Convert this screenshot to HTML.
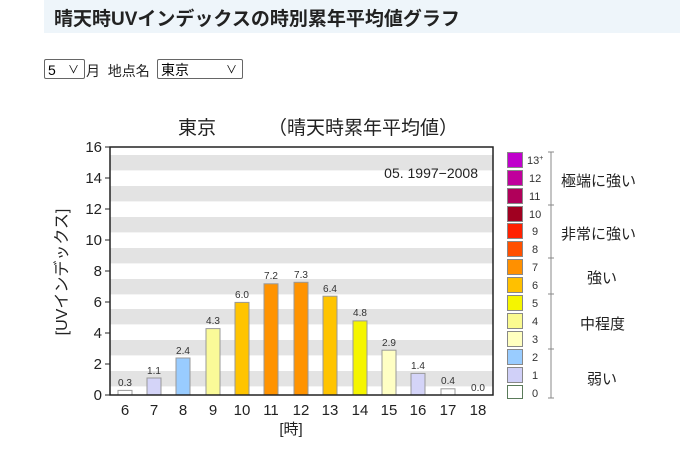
<!DOCTYPE html>
<html><head><meta charset="utf-8"><style>
body{margin:0;width:680px;height:460px;background:#fff;font-family:"Liberation Sans","Noto Sans CJK JP",sans-serif;overflow:hidden;position:relative}
.hd{position:absolute;left:44px;top:0;width:636px;height:33px;background:#eef5fa}
.hd span{position:absolute;left:10px;top:4px;font-size:19px;font-weight:bold;color:#222}
.sel{position:absolute;top:59px;height:20px;border:1px solid #666;border-radius:2px;font-size:14px;line-height:20px;box-sizing:border-box;padding-left:3px;background:#fff}
.t{position:absolute;top:61px;font-size:14px;color:#222}
</style></head><body>
<div class="hd"><span>晴天時UVインデックスの時別累年平均値グラフ</span></div>
<div class="sel" style="left:44px;width:41px">5<span style="position:absolute;right:5px;font-size:11px">&#x2228;</span></div>
<div class="t" style="left:86px">月&nbsp;&nbsp;地点名</div>
<div class="sel" style="left:157px;width:86px">東京<span style="position:absolute;right:5px;font-size:11px">&#x2228;</span></div>
<svg width="680" height="460" style="position:absolute;left:0;top:0" font-family="Liberation Sans,Noto Sans CJK JP,sans-serif">
<text x="178" y="134" font-size="19" fill="#222">東京</text>
<text x="268" y="134" font-size="19" fill="#222">（晴天時累年平均値）</text>
<g fill="#e3e3e3">
<rect x="110" y="155" width="383" height="15.4"/>
<rect x="110" y="186" width="383" height="15.4"/>
<rect x="110" y="217" width="383" height="15.4"/>
<rect x="110" y="248" width="383" height="15.4"/>
<rect x="110" y="279" width="383" height="15.4"/>
<rect x="110" y="309" width="383" height="15.4"/>
<rect x="110" y="340" width="383" height="15.4"/>
<rect x="110" y="371" width="383" height="15.4"/>
</g>
<text x="478" y="178" font-size="14" text-anchor="end" fill="#222">05. 1997−2008</text>
<g stroke="#999" stroke-width="1">
<rect x="118" y="390.4" width="14" height="4.6" fill="#fff"/>
<rect x="147" y="378" width="14" height="17" fill="#d4d4f8"/>
<rect x="176" y="358" width="14" height="37" fill="#99ccff"/>
<rect x="206" y="328.6" width="14" height="66.4" fill="#fafa98"/>
<rect x="235" y="302.4" width="14" height="92.6" fill="#ffc400"/>
<rect x="264" y="283.8" width="14" height="111.2" fill="#ff9300"/>
<rect x="294" y="282.3" width="14" height="112.7" fill="#ff9300"/>
<rect x="323" y="296.2" width="14" height="98.8" fill="#ffc400"/>
<rect x="353" y="320.9" width="14" height="74.1" fill="#f5f500"/>
<rect x="382" y="350.2" width="14" height="44.8" fill="#ffffc4"/>
<rect x="411" y="373.4" width="14" height="21.6" fill="#d4d4f8"/>
<rect x="441" y="388.8" width="14" height="6.2" fill="#fff"/>
</g>
<g font-size="10" fill="#333" text-anchor="middle">
<text x="125" y="386">0.3</text><text x="154" y="374">1.1</text><text x="183" y="354">2.4</text>
<text x="213" y="324">4.3</text><text x="242" y="298">6.0</text><text x="271" y="279">7.2</text>
<text x="301" y="278">7.3</text><text x="330" y="292">6.4</text><text x="360" y="316">4.8</text>
<text x="389" y="346">2.9</text><text x="418" y="369">1.4</text><text x="448" y="384">0.4</text><text x="478" y="391">0.0</text>
</g>
<rect x="110" y="147" width="383" height="248" fill="none" stroke="#222" stroke-width="1.5"/>
<g stroke="#222" stroke-width="1">
<line x1="105" y1="147" x2="110" y2="147"/><line x1="105" y1="178" x2="110" y2="178"/><line x1="105" y1="209" x2="110" y2="209"/><line x1="105" y1="240" x2="110" y2="240"/><line x1="105" y1="271" x2="110" y2="271"/><line x1="105" y1="302" x2="110" y2="302"/><line x1="105" y1="333" x2="110" y2="333"/><line x1="105" y1="364" x2="110" y2="364"/><line x1="105" y1="395" x2="110" y2="395"/>
</g>
<g font-size="15" fill="#222" text-anchor="end">
<text x="102" y="152">16</text><text x="102" y="183">14</text><text x="102" y="214">12</text><text x="102" y="245">10</text><text x="102" y="276">8</text><text x="102" y="307">6</text><text x="102" y="338">4</text><text x="102" y="369">2</text><text x="102" y="400">0</text>
</g>
<g font-size="15" fill="#222" text-anchor="middle">
<text x="125" y="415">6</text><text x="154" y="415">7</text><text x="183" y="415">8</text><text x="213" y="415">9</text><text x="242" y="415">10</text><text x="271" y="415">11</text><text x="301" y="415">12</text><text x="330" y="415">13</text><text x="360" y="415">14</text><text x="389" y="415">15</text><text x="418" y="415">16</text><text x="448" y="415">17</text><text x="478" y="415">18</text>
<text x="291" y="434">[時]</text>
</g>
<text transform="translate(67,272) rotate(-90)" font-size="16" fill="#222" text-anchor="middle">[UVインデックス]</text>
<g stroke="#888" stroke-width="1">
<rect x="507.5" y="152.5" width="15" height="15" fill="#c000cc"/>
<rect x="507.5" y="170.5" width="15" height="15" fill="#c0009c"/>
<rect x="507.5" y="188.5" width="15" height="15" fill="#b0005a"/>
<rect x="507.5" y="206.5" width="15" height="15" fill="#a00020"/>
<rect x="507.5" y="223.5" width="15" height="15" fill="#ff2000"/>
<rect x="507.5" y="241.5" width="15" height="15" fill="#ff5000"/>
<rect x="507.5" y="259.5" width="15" height="15" fill="#ff9000"/>
<rect x="507.5" y="277.5" width="15" height="15" fill="#ffc000"/>
<rect x="507.5" y="295.5" width="15" height="15" fill="#f5f500"/>
<rect x="507.5" y="313.5" width="15" height="15" fill="#fafa90"/>
<rect x="507.5" y="331.5" width="15" height="15" fill="#ffffc0"/>
<rect x="507.5" y="349.5" width="15" height="15" fill="#99ccff"/>
<rect x="507.5" y="367.5" width="15" height="15" fill="#d0d0f8"/>
<rect x="507.5" y="385.5" width="15" height="13" fill="#fff" stroke="#5a7a5a"/>
<line x1="551" y1="152" x2="551" y2="398"/>
<line x1="548" y1="152" x2="554" y2="152"/><line x1="548" y1="205" x2="554" y2="205"/><line x1="548" y1="258" x2="554" y2="258"/><line x1="548" y1="294" x2="554" y2="294"/><line x1="548" y1="349" x2="554" y2="349"/><line x1="548" y1="398" x2="554" y2="398"/>
</g>
<g font-size="11" fill="#333">
<text x="527" y="164">13<tspan font-size="7" dy="-4">+</tspan></text><text x="529" y="182">12</text><text x="529" y="200">11</text><text x="529" y="218">10</text><text x="532" y="235">9</text><text x="532" y="253">8</text><text x="532" y="271">7</text><text x="532" y="289">6</text><text x="532" y="307">5</text><text x="532" y="325">4</text><text x="532" y="343">3</text><text x="532" y="361">2</text><text x="532" y="379">1</text><text x="532" y="397">0</text>
</g>
<g font-size="15" fill="#222">
<text x="561" y="186">極端に強い</text><text x="561" y="239">非常に強い</text><text x="587" y="283">強い</text><text x="580" y="329">中程度</text><text x="587" y="384">弱い</text>
</g>
</svg>
</body></html>
